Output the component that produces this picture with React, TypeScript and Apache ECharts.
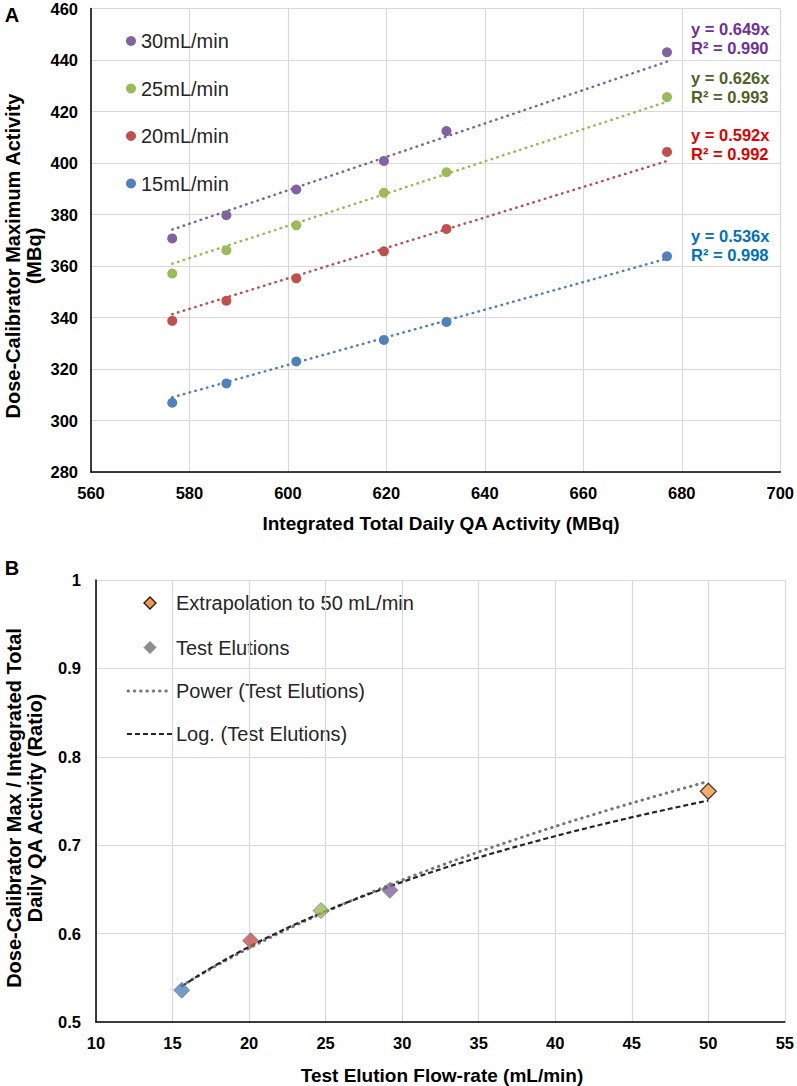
import React, { useEffect, useRef } from "react";
import * as echarts from "echarts";

// ---------- Panel A data ----------
const qaActivity = [576.5, 587.5, 601.7, 619.5, 632.2, 677.0];
const flow15 = [306.9, 314.4, 322.9, 331.3, 338.3, 363.8];
const flow20 = [338.7, 346.5, 355.2, 365.7, 374.4, 404.3];
const flow25 = [357.1, 366.1, 375.8, 388.4, 396.4, 425.6];
const flow30 = [370.7, 379.7, 389.7, 400.8, 412.4, 443.0];
const seriesNamesA = ["15mL/min", "20mL/min", "25mL/min", "30mL/min"];
const slopesA = [0.536, 0.592, 0.626, 0.649];
const r2A = ["0.998", "0.992", "0.993", "0.990"];
const xTicksA = { min: 560, max: 700, interval: 20 };
const yTicksA = { min: 280, max: 460, interval: 20 };

// ---------- Panel B data ----------
const testFlowRates = [15.6, 20.1, 24.7, 29.2];
const testRatios = [0.536, 0.592, 0.626, 0.649];
const extrapFlow = [50];
const extrapRatio = [0.761];
const legendNamesB = ["Extrapolation to 50 mL/min", "Test Elutions", "Power (Test Elutions)", "Log. (Test Elutions)"];
const xTicksB = { min: 10, max: 55, interval: 5 };
const yTicksB = { min: 0.5, max: 1, interval: 0.1 };

const pointColors = ["#4F81BD", "#C0504D", "#9BBB59", "#8064A2"];
const eqColors = ["#0070C0", "#E00000", "#4F6228", "#7030A0"];
const FONT = '"Liberation Sans", Arial, Helvetica, sans-serif';

function logFit(xs: number[], ys: number[]) {
  const lx = xs.map(Math.log);
  const n = xs.length;
  const mx = lx.reduce((a, b) => a + b, 0) / n;
  const my = ys.reduce((a, b) => a + b, 0) / n;
  let sxy = 0, sxx = 0;
  for (let i = 0; i < n; i++) { sxy += (lx[i] - mx) * (ys[i] - my); sxx += (lx[i] - mx) ** 2; }
  const a = sxy / sxx;
  const b = my - a * mx;
  return (x: number) => a * Math.log(x) + b;
}
function powerFit(xs: number[], ys: number[]) {
  const lx = xs.map(Math.log);
  const ly = ys.map(Math.log);
  const n = xs.length;
  const mx = lx.reduce((a, b) => a + b, 0) / n;
  const my = ly.reduce((a, b) => a + b, 0) / n;
  let sxy = 0, sxx = 0;
  for (let i = 0; i < n; i++) { sxy += (lx[i] - mx) * (ly[i] - my); sxx += (lx[i] - mx) ** 2; }
  const b = sxy / sxx;
  const a = Math.exp(my - b * mx);
  return (x: number) => a * Math.pow(x, b);
}

const POWER_STYLE = { color: "#777777", width: 3, type: [0.5, 5.8], cap: "round" };
const LOG_STYLE = { color: "#262626", width: 2.2, type: [5, 3] };

export default function App() {
  const ref = useRef<HTMLDivElement>(null);
  useEffect(() => {
    document.body.style.margin = "0";
    if (!ref.current) return;
    const chart = echarts.init(ref.current, null, { renderer: "svg" });

    const ysA = [flow15, flow20, flow25, flow30];
    const xMinA = Math.min(...qaActivity);
    const xMaxA = Math.max(...qaActivity);

    const seriesA: any[] = [];
    ysA.forEach((ys, i) => {
      seriesA.push({
        name: seriesNamesA[i] + " trend",
        type: "line",
        xAxisIndex: 0,
        yAxisIndex: 0,
        symbol: "none",
        silent: true,
        z: 2,
        lineStyle: { color: pointColors[i], width: 2.5, type: [0.5, 5.5], cap: "round" },
        data: [
          [xMinA, slopesA[i] * xMinA],
          [xMaxA, slopesA[i] * xMaxA],
        ],
      });
      seriesA.push({
        name: seriesNamesA[i],
        type: "scatter",
        xAxisIndex: 0,
        yAxisIndex: 0,
        symbol: "circle",
        symbolSize: 10,
        z: 3,
        itemStyle: { color: pointColors[i], opacity: 1 },
        data: qaActivity.map((x, j) => [x, ys[j]]),
      });
    });

    const powF = powerFit(testFlowRates, testRatios);
    const logF = logFit(testFlowRates, testRatios);
    const x0 = Math.min(...testFlowRates);
    const x1 = extrapFlow[0];
    const steps = 60;
    const samples: number[] = [];
    for (let k = 0; k <= steps; k++) samples.push(x0 + ((x1 - x0) * k) / steps);

    const seriesB: any[] = [
      {
        name: legendNamesB[2],
        type: "line",
        xAxisIndex: 1,
        yAxisIndex: 1,
        symbol: "none",
        z: 2,
        lineStyle: POWER_STYLE,
        data: samples.map((x) => [x, powF(x)]),
      },
      {
        name: legendNamesB[3],
        type: "line",
        xAxisIndex: 1,
        yAxisIndex: 1,
        symbol: "none",
        z: 2,
        lineStyle: LOG_STYLE,
        data: samples.map((x) => [x, logF(x)]),
      },
      {
        name: legendNamesB[1],
        type: "scatter",
        xAxisIndex: 1,
        yAxisIndex: 1,
        symbol: "diamond",
        symbolSize: 16,
        z: 3,
        itemStyle: { color: "#8c8c8c", borderColor: "#7f7f7f", borderWidth: 1 },
        data: testFlowRates.map((x, i) => ({
          value: [x, testRatios[i]],
          itemStyle: { color: pointColors[i], borderColor: "#7f7f7f", borderWidth: 1 },
        })),
      },
      {
        name: legendNamesB[0],
        type: "scatter",
        xAxisIndex: 1,
        yAxisIndex: 1,
        symbol: "diamond",
        symbolSize: 16,
        z: 4,
        itemStyle: { color: "#F79646", borderColor: "#1a1a1a", borderWidth: 1.3 },
        data: extrapFlow.map((x, i) => [x, extrapRatio[i]]),
      },
    ];

    const axisLabel = (margin: number, fmt?: any) => ({
      color: "#000",
      fontFamily: FONT,
      fontWeight: "bold",
      fontSize: 16.5,
      margin,
      formatter: fmt,
    });
    const splitLine = { show: true, lineStyle: { color: "#d9d9d9", width: 1.2 } };
    const axisLine = { show: true, onZero: false, lineStyle: { color: "#000", width: 1.5 } };

    const graphics: any[] = [
      { type: "text", x: 12, y: 15, style: { text: "A", font: `bold 20px ${FONT}`, fill: "#000", textAlign: "center", textVerticalAlign: "middle" } },
      { type: "text", x: 12, y: 568, style: { text: "B", font: `bold 20px ${FONT}`, fill: "#000", textAlign: "center", textVerticalAlign: "middle" } },
      {
        type: "text", x: 23, y: 256, rotation: Math.PI / 2,
        style: { text: "Dose-Calibrator Maximum Activity\n(MBq)", font: `bold 20px ${FONT}`, lineHeight: 21, fill: "#000", textAlign: "center", textVerticalAlign: "middle" },
      },
      {
        type: "text", x: 441, y: 523,
        style: { text: "Integrated Total Daily QA Activity (MBq)", font: `bold 19px ${FONT}`, fill: "#000", textAlign: "center", textVerticalAlign: "middle" },
      },
      {
        type: "text", x: 24, y: 808, rotation: Math.PI / 2,
        style: { text: "Dose-Calibrator Max / Integrated Total\nDaily QA Activity (Ratio)", font: `bold 20px ${FONT}`, lineHeight: 21, fill: "#000", textAlign: "center", textVerticalAlign: "middle" },
      },
      {
        type: "text", x: 442, y: 1075,
        style: { text: "Test Elution Flow-rate (mL/min)", font: `bold 19px ${FONT}`, fill: "#000", textAlign: "center", textVerticalAlign: "middle" },
      },
    ];
    const eqY = [245, 144.5, 87.5, 38.5];
    slopesA.forEach((s, i) => {
      graphics.push({
        type: "text", x: 691, y: eqY[i],
        style: {
          text: `y = ${s.toFixed(3)}x\nR² = ${r2A[i]}`,
          font: `bold 16.5px ${FONT}`, lineHeight: 19, fill: eqColors[i],
          textAlign: "left", textVerticalAlign: "middle",
        },
      });
    });

    // Legend for panel B
    const rowsB = [603, 647.5, 691, 734];
    const iconCx = 150;
    const diamond = (cx: number, cy: number, r: number) => [[cx, cy - r], [cx + r, cy], [cx, cy + r], [cx - r, cy]];
    graphics.push({
      type: "polygon", shape: { points: diamond(iconCx, rowsB[0], 6) },
      style: { fill: "#F79646", stroke: "#1a1a1a", lineWidth: 1.3 },
    });
    graphics.push({
      type: "polygon", shape: { points: diamond(iconCx, rowsB[1], 6) },
      style: { fill: "#8c8c8c", stroke: "#8c8c8c", lineWidth: 1 },
    });
    graphics.push({
      type: "line", shape: { x1: 128, y1: rowsB[2], x2: 172, y2: rowsB[2] },
      style: { stroke: POWER_STYLE.color, lineWidth: POWER_STYLE.width, lineDash: POWER_STYLE.type, lineCap: "round" },
    });
    graphics.push({
      type: "line", shape: { x1: 127, y1: rowsB[3], x2: 172, y2: rowsB[3] },
      style: { stroke: LOG_STYLE.color, lineWidth: LOG_STYLE.width, lineDash: LOG_STYLE.type },
    });
    legendNamesB.forEach((n, i) => {
      graphics.push({
        type: "text", x: 176, y: rowsB[i],
        style: { text: n, font: `20px ${FONT}`, fill: "#262626", textAlign: "left", textVerticalAlign: "middle" },
      });
    });

    chart.setOption({
      animation: false,
      backgroundColor: "#fff",
      textStyle: { fontFamily: FONT },
      grid: [
        { left: 91, top: 8, width: 692, height: 464 },
        { left: 96, top: 580, width: 691, height: 442 },
      ],
      xAxis: [
        {
          type: "value", gridIndex: 0, ...xTicksA,
          axisLine, axisTick: { show: false }, splitLine, axisLabel: axisLabel(12),
        },
        {
          type: "value", gridIndex: 1, ...xTicksB,
          axisLine, axisTick: { show: false }, splitLine, axisLabel: axisLabel(12),
        },
      ],
      yAxis: [
        {
          type: "value", gridIndex: 0, ...yTicksA,
          axisLine, axisTick: { show: false }, splitLine, axisLabel: axisLabel(13),
        },
        {
          type: "value", gridIndex: 1, ...yTicksB,
          axisLine, axisTick: { show: false }, splitLine,
          axisLabel: axisLabel(15, (v: number) => String(Math.round(v * 10) / 10)),
        },
      ],
      legend: [
        {
          data: ["30mL/min", "25mL/min", "20mL/min", "15mL/min"],
          orient: "vertical",
          left: 121,
          top: 26,
          itemWidth: 10,
          itemHeight: 10,
          itemGap: 27.5,
          icon: "circle",
          selectedMode: false,
          textStyle: { fontSize: 20, lineHeight: 20, color: "#262626", fontFamily: FONT },
        },
      ],
      graphic: graphics,
      series: [...seriesA, ...seriesB],
    });
    return () => chart.dispose();
  }, []);
  return <div ref={ref} style={{ width: 797, height: 1086 }} />;
}
